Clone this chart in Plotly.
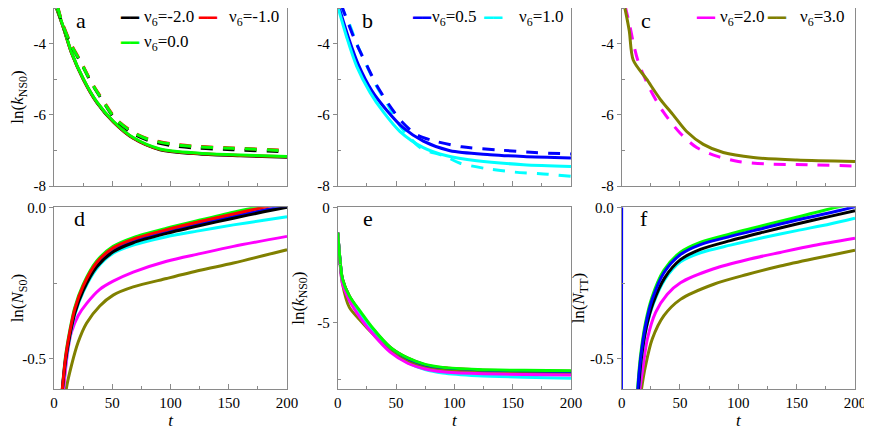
import plotly.graph_objects as go
from plotly.subplots import make_subplots

# ── colours per nu6 value ──────────────────────────────────────────────────────
C_BLACK   = "#000000"
C_RED     = "#ff0000"
C_GREEN   = "#00ff00"
C_BLUE    = "#0000ff"
C_CYAN    = "#00ffff"
C_MAGENTA = "#ff00ff"
C_OLIVE   = "#808000"

FONT   = "'Liberation Serif', 'Times New Roman', serif"
AXCOL  = "#8a8a8a"
DASH   = "12px,10px"

# ── panel a : ln(k_NS0), nu6 = -2, -1, 0 (solid + dashed) ─────────────────────
T_A_SOLID     = [0, 2.3, 8, 15.2, 25.2, 36.6, 50.9, 68, 91, 125, 160, 200]
A_BLACK_SOLID = [-2.82, -3.02, -3.55, -4.28, -5.01, -5.65, -6.2, -6.66, -6.98, -7.1, -7.15, -7.19]
A_RED_SOLID   = [-2.81, -3.01, -3.54, -4.27, -5.0, -5.64, -6.19, -6.65, -6.97, -7.09, -7.14, -7.18]
A_GREEN_SOLID = [-2.8, -3.0, -3.53, -4.26, -4.99, -5.63, -6.18, -6.64, -6.96, -7.08, -7.13, -7.17]

T_A_DASH      = [3, 6.9, 14.9, 23.5, 31.8, 42.6, 52.9, 67.5, 81, 102, 125, 153, 200]
A_BLACK_DASH  = [-2.97, -3.42, -4.06, -4.56, -5.09, -5.65, -6.14, -6.52, -6.72, -6.87, -6.94, -6.98, -7.04]
A_RED_DASH    = [-2.94, -3.39, -4.03, -4.53, -5.06, -5.62, -6.1, -6.48, -6.68, -6.82, -6.89, -6.93, -7.0]
A_GREEN_DASH  = [-2.95, -3.41, -4.05, -4.55, -5.08, -5.64, -6.12, -6.49, -6.69, -6.83, -6.9, -6.94, -7.01]

# ── panel b : nu6 = 0.5, 1.0 ──────────────────────────────────────────────────
T_B_BLUE_SOLID = [0, 1.4, 9.1, 17.7, 29.2, 42, 56.3, 73.4, 96.3, 130.6, 159.2, 200]
B_BLUE_SOLID   = [-2.86, -3.01, -3.82, -4.59, -5.32, -5.87, -6.37, -6.74, -7.01, -7.12, -7.17, -7.21]
T_B_CYAN_SOLID = [0, 0.5, 7.7, 16.3, 27.7, 39.1, 53.4, 73.4, 93.5, 119.2, 159.2, 200]
B_CYAN_SOLID   = [-2.95, -3.01, -3.82, -4.64, -5.37, -5.92, -6.47, -6.92, -7.15, -7.29, -7.4, -7.45]
T_B_BLUE_DASH  = [3, 8.8, 16, 26, 33.4, 43.4, 55.4, 67.7, 83.4, 106.3, 139, 169, 200]
B_BLUE_DASH    = [-2.9, -3.41, -4.0, -4.68, -5.17, -5.69, -6.21, -6.56, -6.74, -6.9, -6.99, -7.06, -7.1]
T_B_CYAN_DASH  = [2, 10, 16, 26, 33, 43, 55, 72, 91, 105, 129, 152, 180, 200]
B_CYAN_DASH    = [-2.9, -3.45, -3.98, -4.7, -5.18, -5.72, -6.38, -6.95, -7.15, -7.36, -7.52, -7.61, -7.67, -7.73]

# ── panel c : nu6 = 2.0 (dashed), 3.0 (solid) ─────────────────────────────────
T_C_MAG_DASH = [3, 7, 10, 14.3, 24.3, 35.7, 50, 64.3, 81.5, 100, 122.9, 158.7, 200]
C_MAG_DASH   = [-2.95, -3.5, -3.98, -4.52, -5.28, -5.92, -6.51, -6.92, -7.16, -7.31, -7.38, -7.4, -7.44]
T_C_OLIVE    = [0, 2.8, 6.5, 9.9, 21.4, 32.8, 44.3, 55.7, 70, 87.1, 112.9, 150.1, 200]
C_OLIVE_SOL  = [-2.6, -3.01, -3.64, -4.46, -5.0, -5.55, -6.01, -6.47, -6.83, -7.06, -7.2, -7.27, -7.31]

# ── panel d : ln(N_S0) ────────────────────────────────────────────────────────
T_D       = [6.0, 9.8, 13.5, 17.8, 25, 36.5, 50.8, 68, 96.7, 125.4, 154, 180, 200]
D_GREEN   = [-0.65, -0.495, -0.408, -0.331, -0.255, -0.178, -0.129, -0.1, -0.069, -0.042, -0.016, 0.005, 0.02]
D_RED     = [-0.65, -0.5, -0.413, -0.336, -0.26, -0.183, -0.134, -0.105, -0.074, -0.047, -0.022, 0.0, 0.016]
D_BLUE    = [-0.65, -0.505, -0.42, -0.343, -0.267, -0.19, -0.14, -0.111, -0.08, -0.054, -0.03, -0.009, 0.003]
D_BLACK   = [-0.65, -0.51, -0.425, -0.35, -0.275, -0.197, -0.147, -0.117, -0.086, -0.06, -0.036, -0.015, 0.0]
D_CYAN    = [-0.65, -0.515, -0.43, -0.355, -0.28, -0.203, -0.152, -0.125, -0.097, -0.077, -0.058, -0.043, -0.031]
T_D_MAG   = [7.5, 8.3, 12.1, 14.9, 20.7, 27.9, 39.3, 50.8, 68, 96.7, 125.4, 154, 200]
D_MAGENTA = [-0.65, -0.6, -0.467, -0.413, -0.358, -0.318, -0.271, -0.244, -0.214, -0.178, -0.153, -0.129, -0.096]
T_D_OLIVE = [9.5, 10.7, 15, 20.7, 27.9, 39.3, 50.8, 68, 96.7, 125.4, 154, 200]
D_OLIVE   = [-0.65, -0.596, -0.522, -0.446, -0.383, -0.326, -0.29, -0.263, -0.235, -0.208, -0.184, -0.14]

# ── panel e : ln(k_NS0), all nu6 ──────────────────────────────────────────────
T_E       = [0, 2, 4, 10, 20, 30, 45, 60, 75, 90, 120, 160, 200]
E_BLACK   = [-1.1, -2.32, -3.12, -3.88, -4.64, -5.3, -6.1, -6.57, -6.86, -6.99, -7.09, -7.13, -7.15]
E_RED     = [-1.1, -2.31, -3.11, -3.87, -4.63, -5.29, -6.09, -6.56, -6.85, -6.98, -7.07, -7.11, -7.13]
E_BLUE    = [-1.1, -2.3, -3.15, -3.9, -4.7, -5.35, -6.16, -6.62, -6.9, -7.03, -7.12, -7.17, -7.2]
E_CYAN    = [-1.1, -2.35, -3.2, -3.95, -4.75, -5.42, -6.25, -6.75, -7.05, -7.2, -7.32, -7.39, -7.43]
E_OLIVE   = [-1.1, -2.4, -3.3, -4.35, -4.95, -5.5, -6.25, -6.72, -6.98, -7.1, -7.19, -7.24, -7.27]
E_MAGENTA = [-1.1, -2.4, -3.3, -4.05, -4.85, -5.5, -6.3, -6.78, -7.03, -7.15, -7.23, -7.27, -7.29]
E_GREEN   = [-1.1, -2.3, -3.1, -3.85, -4.57, -5.25, -6.08, -6.55, -6.83, -6.96, -7.05, -7.09, -7.11]

# ── panel f : ln(N_TT) ────────────────────────────────────────────────────────
T_F_BLUE  = [0, 1, 13.9, 16.2, 20.5, 26.2, 36.2, 50.4, 67.5, 93.2, 121.6, 150.1, 178.6, 200]
F_BLUE    = [0.0, -3.0, -0.6, -0.5, -0.39, -0.304, -0.216, -0.156, -0.123, -0.096, -0.069, -0.042, -0.018, 0.002]
T_F_GREEN = [12.5, 13.6, 16, 20.3, 26, 36, 50.2, 67.3, 93, 121.4, 150, 184, 200]
F_GREEN   = [-0.65, -0.6, -0.495, -0.384, -0.297, -0.209, -0.149, -0.116, -0.088, -0.06, -0.033, 0.0, 0.012]
T_F       = [13, 14.4, 16.8, 21.2, 27, 37, 50.4, 67.5, 93.2, 121.6, 150.1, 178.6, 200]
F_BLACK   = [-0.65, -0.6, -0.5, -0.395, -0.315, -0.232, -0.173, -0.139, -0.11, -0.082, -0.055, -0.03, -0.011]
F_CYAN    = [-0.65, -0.6, -0.5, -0.398, -0.32, -0.238, -0.18, -0.15, -0.125, -0.1, -0.077, -0.055, -0.036]
T_F_MAG   = [14.5, 15.6, 17.7, 22, 29.1, 39.1, 50.4, 78.9, 107.4, 135.9, 164.4, 200]
F_MAGENTA = [-0.65, -0.6, -0.544, -0.435, -0.347, -0.287, -0.249, -0.203, -0.173, -0.149, -0.126, -0.102]
T_F_OLIVE = [15.5, 17, 20.5, 26.2, 36.2, 50.4, 78.9, 107.4, 135.9, 164.4, 200]
F_OLIVE   = [-0.65, -0.6, -0.522, -0.435, -0.358, -0.304, -0.254, -0.222, -0.194, -0.17, -0.142]

# ── axis ticks / labels ───────────────────────────────────────────────────────
X_TICKS      = [0, 50, 100, 150, 200]
X_TICKTEXT   = ["0", "50", "100", "150", "200"]
K_TICKS      = [-8, -6, -4]
K_TICKTEXT   = ["-8", "-6", "-4"]
N_TICKS      = [-0.5, 0.0]
N_TICKTEXT   = ["-0.5", "0.0"]
E_TICKS      = [-5, 0]
E_TICKTEXT   = ["-5", "0"]

PANEL_LABELS = ["a", "b", "c", "d", "e", "f"]

# legend entries per top panel: (colour, label, sample x, text x, y)
LEGENDS = [
    (1, [(C_BLACK, "-2.0", 0.326, 0.376, 0.945),
         (C_RED,   "-1.0", 0.662, 0.741, 0.945),
         (C_GREEN, "0.0",  0.326, 0.376, 0.805)]),
    (2, [(C_BLUE,  "0.5",  0.36,  0.396, 0.945),
         (C_CYAN,  "1.0",  0.667, 0.767, 0.945)]),
    (3, [(C_MAGENTA, "2.0", 0.36,  0.414, 0.945),
         (C_OLIVE,   "3.0", 0.664, 0.757, 0.945)]),
]


def _line(x, y, color, dash="solid", width=3):
    return go.Scatter(
        x=x, y=y, mode="lines",
        line=dict(color=color, width=width, dash=dash, shape="spline", smoothing=0.8),
        showlegend=False, hoverinfo="skip",
    )


fig = make_subplots(rows=2, cols=3)

# panel a
for t, v, c in [(T_A_SOLID, A_BLACK_SOLID, C_BLACK), (T_A_SOLID, A_RED_SOLID, C_RED),
                (T_A_SOLID, A_GREEN_SOLID, C_GREEN)]:
    fig.add_trace(_line(t, v, c), row=1, col=1)
for t, v, c in [(T_A_DASH, A_BLACK_DASH, C_BLACK), (T_A_DASH, A_RED_DASH, C_RED),
                (T_A_DASH, A_GREEN_DASH, C_GREEN)]:
    fig.add_trace(_line(t, v, c, DASH), row=1, col=1)

# panel b
fig.add_trace(_line(T_B_CYAN_DASH, B_CYAN_DASH, C_CYAN, DASH), row=1, col=2)
fig.add_trace(_line(T_B_BLUE_DASH, B_BLUE_DASH, C_BLUE, DASH), row=1, col=2)
fig.add_trace(_line(T_B_BLUE_SOLID, B_BLUE_SOLID, C_BLUE), row=1, col=2)
fig.add_trace(_line(T_B_CYAN_SOLID, B_CYAN_SOLID, C_CYAN), row=1, col=2)

# panel c
fig.add_trace(_line(T_C_MAG_DASH, C_MAG_DASH, C_MAGENTA, DASH), row=1, col=3)
fig.add_trace(_line(T_C_OLIVE, C_OLIVE_SOL, C_OLIVE), row=1, col=3)

# panel d
for t, v, c in [(T_D_OLIVE, D_OLIVE, C_OLIVE), (T_D_MAG, D_MAGENTA, C_MAGENTA),
                (T_D, D_CYAN, C_CYAN), (T_D, D_GREEN, C_GREEN), (T_D, D_BLUE, C_BLUE),
                (T_D, D_BLACK, C_BLACK), (T_D, D_RED, C_RED)]:
    fig.add_trace(_line(t, v, c), row=2, col=1)

# panel e
for v, c in [(E_BLACK, C_BLACK), (E_RED, C_RED), (E_BLUE, C_BLUE), (E_CYAN, C_CYAN),
             (E_OLIVE, C_OLIVE), (E_MAGENTA, C_MAGENTA), (E_GREEN, C_GREEN)]:
    fig.add_trace(_line(T_E, v, c), row=2, col=2)

# panel f
for t, v, c in [(T_F_OLIVE, F_OLIVE, C_OLIVE), (T_F_MAG, F_MAGENTA, C_MAGENTA),
                (T_F, F_CYAN, C_CYAN), (T_F_GREEN, F_GREEN, C_GREEN),
                (T_F, F_BLACK, C_BLACK), (T_F_BLUE, F_BLUE, C_BLUE)]:
    fig.add_trace(_line(t, v, c), row=2, col=3)

# ── axes ──────────────────────────────────────────────────────────────────────
# page body adds an 8px offset, so the figure is 864x424 and shifted accordingly
X_DOMAINS = [[0.0, 0.2909], [0.3542, 0.6454], [0.7087, 1.0]]
Y_DOMAINS = [[0.5328, 1.0], [0.0, 0.4769]]

common = dict(
    showline=True, linecolor=AXCOL, linewidth=1, mirror=True,
    showgrid=False, zeroline=False, tickcolor=AXCOL,
    tickfont=dict(family=FONT, size=15, color="black"),
)

for r in (1, 2):
    for c in (1, 2, 3):
        fig.update_xaxes(
            domain=X_DOMAINS[c - 1], range=[0, 200],
            tickmode="array", tickvals=X_TICKS, ticktext=X_TICKTEXT,
            ticks="inside", ticklen=5,
            minor=dict(tickmode="array", tickvals=[25, 75, 125, 175],
                       ticks="inside", ticklen=3, tickcolor=AXCOL),
            showticklabels=(r == 2),
            title=dict(text="<i>t</i>" if r == 2 else None, standoff=2,
                       font=dict(family=FONT, size=17)),
            row=r, col=c, **common,
        )

ytitle_font = dict(family=FONT, size=17)
for c in (1, 2, 3):
    fig.update_yaxes(
        domain=Y_DOMAINS[0], range=[-8, -3],
        tickmode="array", tickvals=K_TICKS, ticktext=K_TICKTEXT,
        ticks="outside", ticklen=4,
        minor=dict(tickmode="array", tickvals=[-7, -5, -3],
                   ticks="inside", ticklen=3, tickcolor=AXCOL),
        title=dict(text="ln(<i>k</i><sub>NS0</sub>)" if c == 1 else None,
                   standoff=12, font=ytitle_font),
        row=1, col=c, **common,
    )

fig.update_yaxes(
    domain=Y_DOMAINS[1], range=[-0.6, 0.0],
    tickmode="array", tickvals=N_TICKS, ticktext=N_TICKTEXT,
    ticks="outside", ticklen=4,
    minor=dict(tickmode="array", tickvals=[-0.25], ticks="inside", ticklen=3, tickcolor=AXCOL),
    title=dict(text="ln(<i>N</i><sub>S0</sub>)", standoff=2, font=ytitle_font),
    row=2, col=1, **common,
)
fig.update_yaxes(
    domain=Y_DOMAINS[1], range=[-7.9, 0.0],
    tickmode="array", tickvals=E_TICKS, ticktext=E_TICKTEXT,
    ticks="outside", ticklen=4,
    minor=dict(tickmode="array", tickvals=[-7.5, -2.5], ticks="inside", ticklen=3, tickcolor=AXCOL),
    title=dict(text="ln(<i>k</i><sub>NS0</sub>)", standoff=8, font=ytitle_font),
    row=2, col=2, **common,
)
fig.update_yaxes(
    domain=Y_DOMAINS[1], range=[-0.6, 0.0],
    tickmode="array", tickvals=N_TICKS, ticktext=N_TICKTEXT,
    ticks="outside", ticklen=4,
    minor=dict(tickmode="array", tickvals=[-0.25], ticks="inside", ticklen=3, tickcolor=AXCOL),
    title=dict(text="ln(<i>N</i><sub>TT</sub>)", standoff=0, font=ytitle_font),
    row=2, col=3, **common,
)

# ── panel letters and inline legends ──────────────────────────────────────────
LETTER_POS = [(0.118, 0.93), (0.128, 0.93), (0.103, 0.93),
              (0.109, 0.94), (0.13, 0.94), (0.095, 0.94)]
annotations = []
for i, (label, (lx, ly)) in enumerate(zip(PANEL_LABELS, LETTER_POS)):
    ax = "" if i == 0 else str(i + 1)
    annotations.append(dict(
        x=lx, y=ly, xref=f"x{ax} domain", yref=f"y{ax} domain",
        text=label, showarrow=False, xanchor="center", yanchor="middle",
        font=dict(family=FONT, size=22, color="black"),
    ))

for panel, entries in LEGENDS:
    ax = "" if panel == 1 else str(panel)
    for color, value, sx, tx, y in entries:
        annotations.append(dict(
            x=sx, y=y, xref=f"x{ax} domain", yref=f"y{ax} domain",
            text="━━", showarrow=False, xanchor="center", yanchor="middle",
            font=dict(family="DejaVu Sans", size=15, color=color),
        ))
        annotations.append(dict(
            x=tx, y=y, xref=f"x{ax} domain", yref=f"y{ax} domain",
            text=f"ν<sub>6</sub>={value}", showarrow=False,
            xanchor="left", yanchor="middle",
            font=dict(family=FONT, size=17, color="black"),
        ))

fig.update_layout(
    template="none",
    width=864, height=424,
    margin=dict(l=46, r=17, t=0, b=43),
    paper_bgcolor="white", plot_bgcolor="white",
    font=dict(family=FONT, color="black"),
    showlegend=False,
    annotations=annotations,
)

fig.write_html("out.html")
